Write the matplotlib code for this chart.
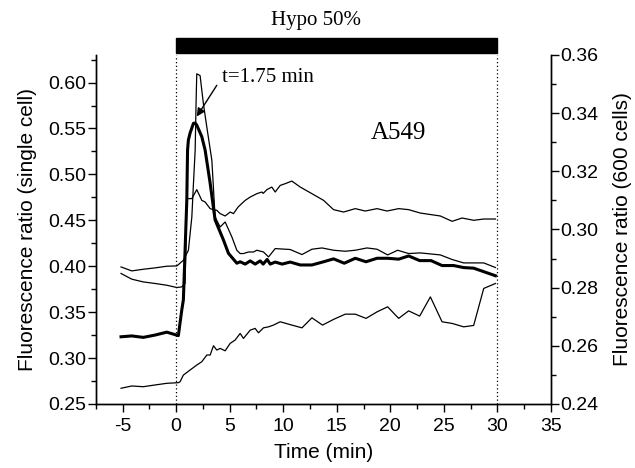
import matplotlib
matplotlib.use("Agg")
import matplotlib.pyplot as plt
from matplotlib.patches import Rectangle
from matplotlib.ticker import MultipleLocator, FormatStrFormatter
import matplotlib.transforms as mtransforms

plt.rcParams['font.family'] = ['Liberation Sans', 'DejaVu Sans']

# ---- data ----
t1 = [-5.14, -4.14, -3.06, -1.96, -0.87, 0.07, 0.68, 1.15, 1.31, 1.47, 1.62, 1.78, 1.87, 1.93,
      2.24, 2.55, 2.87, 3.34, 3.64, 4.11, 4.58, 5.21, 5.67, 5.98, 6.29, 6.76, 7.22, 7.54, 8.16,
      8.63, 9.25, 10.65, 11.75, 12.68, 13.62, 14.70, 15.79, 16.73, 17.82, 18.76, 19.75, 20.68,
      21.71, 22.80, 24.67, 25.77, 26.85, 28.72, 29.81]
cell1 = [0.3992, 0.3949, 0.3967, 0.3982, 0.4000, 0.4003, 0.4065, 0.4174, 0.4355, 0.4536, 0.4899,
         0.5261, 0.5804, 0.6095, 0.6076, 0.5768, 0.5514, 0.5152, 0.4536, 0.4427, 0.4482, 0.4318,
         0.4174, 0.4138, 0.4138, 0.4155, 0.4155, 0.4174, 0.4155, 0.4101, 0.4192, 0.4182, 0.4127,
         0.4185, 0.4199, 0.4174, 0.4163, 0.4174, 0.4199, 0.4185, 0.4123, 0.4174, 0.4138, 0.4145,
         0.4123, 0.4073, 0.4036, 0.4036, 0.3986]

t2 = [-5.14, -4.14, -3.06, -1.96, -0.87, 0.07, 0.53, 0.84, 1.00, 1.47, 1.93, 2.40, 2.71, 3.18,
      3.49, 3.80, 4.11, 4.58, 5.05, 5.36, 5.79, 6.45, 6.92, 7.54, 8.01, 8.13, 8.48, 8.94, 9.25,
      9.72, 10.19, 10.81, 11.59, 12.68, 13.77, 14.70, 15.64, 16.73, 17.66, 18.76, 19.69, 20.78,
      21.71, 22.80, 24.67, 25.77, 26.70, 27.78, 28.72, 29.81]
cell2 = [0.3921, 0.3859, 0.3829, 0.3812, 0.3793, 0.3768, 0.3775, 0.3812, 0.4736, 0.4736, 0.4834,
         0.4717, 0.4699, 0.4627, 0.4616, 0.4609, 0.4573, 0.4547, 0.4590, 0.4573, 0.4645, 0.4717,
         0.4753, 0.4790, 0.4808, 0.4793, 0.4834, 0.4862, 0.4808, 0.4880, 0.4899, 0.4927, 0.4862,
         0.4790, 0.4717, 0.4616, 0.4590, 0.4627, 0.4601, 0.4627, 0.4601, 0.4627, 0.4616, 0.4579,
         0.4547, 0.4489, 0.4525, 0.4500, 0.4514, 0.4514]

t3 = [-5.14, -4.14, -3.06, -1.96, -0.87, 0.21, 0.37, 0.68, 1.31, 1.93, 2.40, 2.87, 3.18, 3.49,
      3.80, 4.11, 4.58, 5.05, 5.51, 5.98, 6.29, 6.92, 7.38, 7.69, 8.16, 8.63, 9.09, 9.72, 10.81,
      11.75, 12.68, 13.67, 14.70, 15.79, 16.73, 17.73, 18.76, 19.75, 20.78, 21.71, 22.74, 23.74,
      24.83, 25.77, 26.85, 27.78, 28.72, 29.81]
cell3 = [0.2671, 0.2696, 0.2688, 0.2707, 0.2725, 0.2732, 0.2742, 0.2815, 0.2870, 0.2924, 0.2960,
         0.3033, 0.3033, 0.3134, 0.3087, 0.3105, 0.3079, 0.3160, 0.3196, 0.3268, 0.3214, 0.3304,
         0.3323, 0.3275, 0.3329, 0.3340, 0.3359, 0.3395, 0.3359, 0.3329, 0.3438, 0.3359, 0.3421,
         0.3478, 0.3478, 0.3432, 0.3503, 0.3558, 0.3432, 0.3514, 0.3457, 0.3666, 0.3395, 0.3377,
         0.3340, 0.3355, 0.3758, 0.3812]

t_avg = [-5.14, -4.14, -3.06, -1.96, -0.87, 0.21, 0.53, 0.68, 0.84, 1.00, 1.07, 1.15, 1.31, 1.62,
         1.78, 1.93, 2.40, 2.71, 3.18, 3.64, 4.42, 4.89, 5.67, 5.98, 6.45, 6.92, 7.38, 7.85, 8.13,
         8.50, 8.79, 9.25, 9.90, 10.65, 11.59, 12.68, 13.77, 14.70, 15.70, 16.73, 17.73, 18.76,
         19.75, 20.78, 21.71, 22.74, 23.80, 24.83, 25.91, 26.85, 27.78, 28.72, 29.81]
avg600 = [0.2631, 0.2634, 0.2629, 0.2637, 0.2647, 0.2635, 0.2723, 0.2758, 0.2930, 0.3101, 0.3273,
          0.3308, 0.3332, 0.3365, 0.3366, 0.3359, 0.3319, 0.3273, 0.3159, 0.3033, 0.2964, 0.2918,
          0.2884, 0.2889, 0.2881, 0.2892, 0.2881, 0.2892, 0.2881, 0.2897, 0.2881, 0.2888, 0.2881,
          0.2888, 0.2878, 0.2878, 0.2889, 0.2899, 0.2884, 0.2901, 0.2889, 0.2901, 0.2901, 0.2898,
          0.2909, 0.2893, 0.2893, 0.2876, 0.2876, 0.2869, 0.2867, 0.2855, 0.2841]

stim_start, stim_end = 0, 30
x_ticks = [-5, 0, 5, 10, 15, 20, 25, 30, 35]

# ---- figure ----
fig = plt.figure(figsize=(6.35, 4.68), dpi=100)
ax = fig.add_axes([0.1508, 0.1368, 0.7169, 0.7457])
ax2 = ax.twinx()

ax.plot(t1, cell1, color='black', lw=0.9)
ax.plot(t2, cell2, color='black', lw=0.9)
ax.plot(t3, cell3, color='black', lw=0.9)
ax2.plot(t_avg, avg600, color='black', lw=2.2)

ax.set_xlim(-7.5, 35)
ax.set_ylim(0.25, 0.63)
ax2.set_ylim(0.24, 0.36)

ax.set_xticks(x_ticks)
ax.set_xticklabels([str(v) for v in x_ticks])
ax.xaxis.set_minor_locator(MultipleLocator(2.5))
ax.yaxis.set_major_locator(MultipleLocator(0.05))
ax.yaxis.set_minor_locator(MultipleLocator(0.025))
ax.yaxis.set_major_formatter(FormatStrFormatter('%.2f'))
ax2.yaxis.set_major_locator(MultipleLocator(0.02))
ax2.yaxis.set_minor_locator(MultipleLocator(0.01))
ax2.yaxis.set_major_formatter(FormatStrFormatter('%.2f'))

for a in (ax, ax2):
    a.spines['top'].set_visible(False)
    for s in a.spines.values():
        s.set_linewidth(1.0)
    a.tick_params(which='major', direction='out', length=6, width=1.0, labelsize=14)
    a.tick_params(which='minor', direction='out', length=3.5, width=1.0)
ax.tick_params(axis='y', pad=1)
ax2.tick_params(axis='y', pad=1)
ax.tick_params(axis='x', pad=4)

ax.set_xlabel('Time (min)', fontsize=15, labelpad=6)
ax.set_ylabel('Fluorescence ratio (single cell)', fontsize=15, labelpad=8)
ax2.set_ylabel('Fluorescence ratio (600 cells)', fontsize=15, rotation=90, labelpad=10)

# dotted stimulus boundaries
for xv in (stim_start, stim_end):
    ax.axvline(xv, color='black', lw=0.9, ls=(0, (1, 2)))

# stimulus bar
trans = mtransforms.blended_transform_factory(ax.transData, ax.transAxes)
ax.add_patch(Rectangle((stim_start, 1.006), stim_end - stim_start, 0.042,
                       transform=trans, color='black', clip_on=False))
ax.text(13.1, 1.10, 'Hypo 50%', transform=trans, ha='center',
        va='center', fontsize=15, family=['Liberation Serif', 'DejaVu Serif'])

ax.text(18.2, 0.545, 'A549', ha='left', va='center', fontsize=18,
        family=['Liberation Serif', 'DejaVu Serif'])
ax.text(4.3, 0.606, 't=1.75 min', ha='left', va='center', fontsize=15,
        family=['Liberation Serif', 'DejaVu Serif'])
ax.annotate('', xy=(1.93, 0.563), xytext=(3.8, 0.597),
            arrowprops=dict(arrowstyle='-|>', color='black', lw=1.0,
                            mutation_scale=12, shrinkA=0, shrinkB=0))

fig.savefig('out.png', dpi=100)
